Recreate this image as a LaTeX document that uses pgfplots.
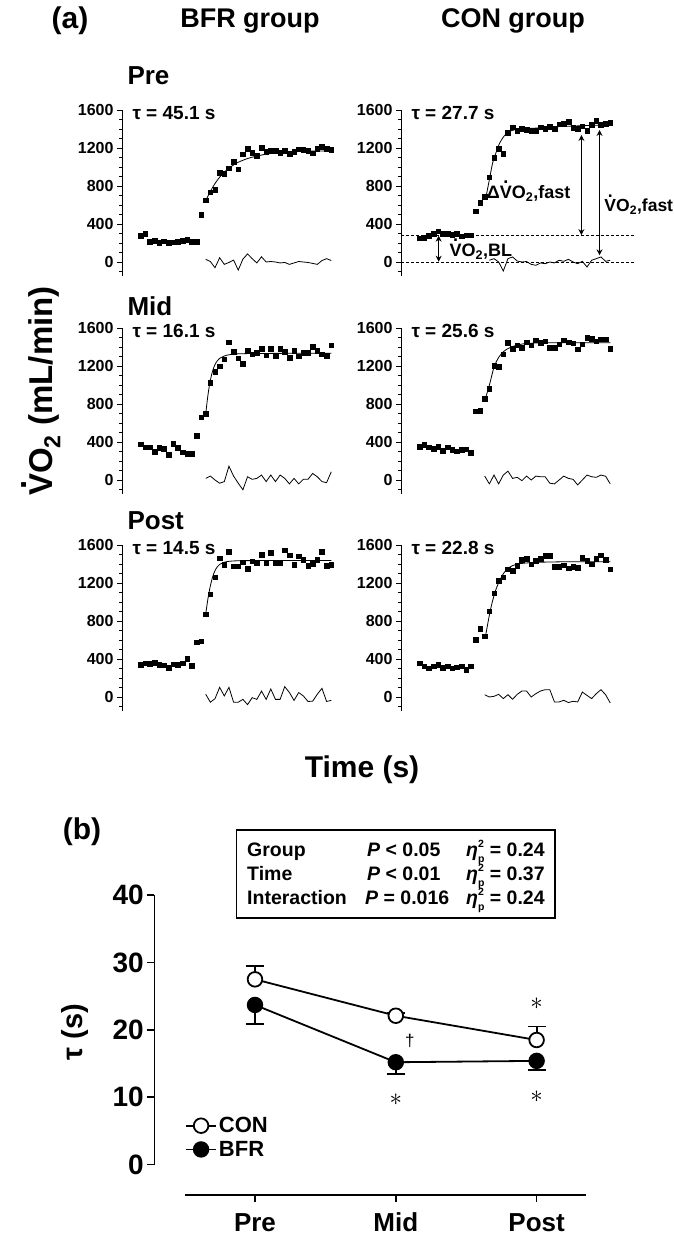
\documentclass[border=0pt]{standalone}
\usepackage{fontspec}
\setmainfont{Liberation Sans}
\usepackage{pgfplots}
\pgfplotsset{compat=1.18}
\usetikzlibrary{arrows.meta}

\newcommand{\fs}[1]{\fontsize{#1}{#1}\selectfont\bfseries}
\newcommand{\Vd}{\leavevmode\setbox0\hbox{V}\rlap{\hbox to \wd0{\hss\raisebox{0.80em}{.}\hss}}V}
\newcommand{\VOt}{\Vd O\textsubscript{2}}
\newcommand{\etap}{\textit{η}\rlap{\raisebox{0.50em}{\fs{10.5}2}}\raisebox{-0.30em}{\fs{10.5}p}}

\pgfplotsset{
  vo2/.style={
    scale only axis, width=232.5pt, height=166.25pt,
    xmin=-150, xmax=350, ymin=-150, ymax=1600,
    axis y line*=left, axis x line=none,
    axis line style={line width=0.9pt},
    clip=false,
    ytick={0,400,800,1200,1600}, yticklabels={0,400,800,1200,1600},
    minor ytick={-100,100,200,300,500,600,700,900,1000,1100,1300,1400,1500},
    tick align=outside, major tick length=5pt, minor tick length=3pt,
    tick style={line width=0.9pt, black},
    minor tick style={line width=0.7pt, black},
    yticklabel style={font=\fs{16}},
    anchor=south west,
  },
  bottomrow/.style={
    axis x line*=bottom,
    xtick={-100,0,100,200,300}, xticklabels={-100,0,100,200,300},
    minor xtick={-150,-50,50,150,250,350},
    xticklabel style={font=\fs{16}},
  },
  dat/.style={only marks, mark=square*, mark size=2.3pt, black},
  fitc/.style={no marks, black, line width=0.8pt, smooth},
  res/.style={no marks, black, line width=0.8pt},
}

\begin{document}
\begin{tikzpicture}
\useasboundingbox (0pt,0pt) rectangle (673pt,1240pt);

% ---------- titles ----------
\node[font=\fs{30}] at (70pt,1219pt) {(a)};
\node[font=\fs{27}] at (250pt,1219pt) {BFR group};
\node[font=\fs{27}] at (513pt,1219pt) {CON group};
\node[font=\fs{26},anchor=west] at (124pt,1164pt) {Pre};
\node[font=\fs{26},anchor=west] at (124pt,934pt) {Mid};
\node[font=\fs{26},anchor=west] at (124pt,719pt) {Post};
\node[font=\fs{33},rotate=90,inner sep=0pt] at (41pt,849pt) {\VOt{} (mL/min)};
\node[font=\fs{30}] at (362pt,470pt) {Time (s)};

% ---------- BFR Pre ----------
\begin{axis}[vo2, at={(122pt,963.75pt)}]
\addplot[dat] coordinates {(-110,275)(-100,296)(-90,212)(-80,222)(-70,205)(-60,218)(-50,200)(-40,210)(-30,212)(-20,222)(-10,232)(0,212)(10,212)(20,500)(30,651)(40,736)(50,764)(60,940)(70,930)(80,986)(90,1053)(100,975)(110,1134)(120,1190)(130,1151)(140,1116)(150,1204)(160,1162)(170,1173)(180,1173)(190,1151)(200,1173)(210,1141)(220,1162)(230,1187)(240,1180)(250,1173)(260,1144)(270,1194)(280,1215)(290,1190)(300,1180)};
\addplot[fitc] coordinates {(30,645)(40,743)(50,826)(60,893)(70,946)(80,988)(90,1022)(100,1050)(120,1089)(140,1115)(160,1135)(180,1148)(200,1156)(250,1166)(300,1170)};
\addplot[res] coordinates {(30,28)(40,5)(50,-60)(60,45)(70,-25)(80,-5)(90,20)(100,-85)(110,30)(120,85)(130,35)(140,-10)(150,55)(160,0)(170,5)(180,0)(190,-10)(200,-5)(210,-25)(220,-10)(230,5)(240,0)(250,-5)(260,-15)(270,-25)(280,15)(290,35)(300,15)};
\node[font=\fs{19},anchor=west] at (axis cs:-135,1565) {τ = 45.1 s};
\end{axis}

% ---------- CON Pre ----------
\begin{axis}[vo2, at={(401pt,963.75pt)}]
\addplot[black, line width=0.9pt, dash pattern=on 3pt off 2pt] coordinates {(-150,280)(350,280)};
\addplot[black, line width=0.9pt, dash pattern=on 3pt off 2pt] coordinates {(-150,0)(350,0)};
\addplot[dat] coordinates {(-110,250)(-100,255)(-90,275)(-80,300)(-70,325)(-60,295)(-50,300)(-40,290)(-30,295)(-20,270)(-10,280)(0,280)(10,535)(20,623)(30,687)(40,891)(50,1100)(60,1190)(70,1140)(80,1360)(90,1420)(100,1380)(110,1400)(120,1395)(130,1380)(140,1385)(150,1420)(160,1405)(170,1425)(180,1400)(190,1450)(200,1455)(210,1475)(220,1415)(230,1405)(240,1430)(250,1380)(260,1445)(270,1490)(280,1445)(290,1455)(300,1465)};
\addplot[fitc] coordinates {(33,690)(40,865)(47,1040)(55,1160)(62,1250)(72,1327)(83,1373)(94,1391)(108,1401)(136,1408)(193,1426)(300,1444)};
\addplot[res] coordinates {(40,18)(50,35)(60,0)(70,-95)(80,35)(90,53)(100,10)(110,0)(120,5)(130,-25)(140,-35)(150,-10)(160,-18)(170,0)(180,-10)(190,18)(200,7)(210,28)(220,0)(230,-18)(240,7)(250,-53)(260,18)(270,35)(280,53)(290,7)(300,18)};
\addplot[black, line width=1.2pt, {Stealth[length=6pt,width=6pt]}-{Stealth[length=6pt,width=6pt]}] coordinates {(-69,3)(-69,277)};
\addplot[black, line width=1.2pt, {Stealth[length=6pt,width=6pt]}-{Stealth[length=6pt,width=6pt]}] coordinates {(238,283)(238,1337)};
\addplot[black, line width=1.2pt, {Stealth[length=6pt,width=6pt]}-{Stealth[length=6pt,width=6pt]}] coordinates {(277,70)(277,1390)};
\node[font=\fs{19},anchor=west] at (axis cs:-135,1565) {τ = 27.7 s};
\node[font=\fs{18},anchor=east] at (axis cs:222,745) {Δ\VOt,fast};
\node[font=\fs{17.5},anchor=west] at (axis cs:280,600) {\VOt,fast};
\node[font=\fs{18},anchor=west,inner sep=1pt] at (axis cs:-48,135) {\VOt,BL};
\end{axis}

% ---------- BFR Mid ----------
\begin{axis}[vo2, at={(122pt,745.75pt)}]
\addplot[dat] coordinates {(-110,378)(-100,344)(-90,344)(-80,299)(-70,337)(-60,327)(-50,268)(-40,385)(-30,337)(-20,292)(-10,275)(0,275)(10,465)(20,661)(30,695)(40,1025)(50,1142)(60,1198)(70,1273)(80,1452)(90,1349)(100,1284)(110,1222)(120,1359)(130,1325)(140,1342)(150,1383)(160,1314)(170,1383)(180,1308)(190,1383)(200,1349)(210,1290)(220,1359)(230,1301)(240,1342)(250,1342)(260,1404)(270,1359)(280,1325)(290,1308)(300,1418)};
\addplot[fitc] coordinates {(30,695)(35,900)(40,1050)(45,1150)(50,1215)(55,1255)(60,1280)(70,1305)(80,1318)(100,1328)(150,1332)(300,1335)};
\addplot[res] coordinates {(30,17)(40,41)(50,0)(60,-34)(70,-17)(80,145)(90,41)(100,-34)(110,-103)(120,34)(130,7)(140,17)(150,52)(160,-17)(170,52)(180,-17)(190,52)(200,17)(210,-41)(220,17)(230,-41)(240,7)(250,7)(260,69)(270,34)(280,-17)(290,-28)(300,86)};
\node[font=\fs{19},anchor=west] at (axis cs:-135,1565) {τ = 16.1 s};
\end{axis}

% ---------- CON Mid ----------
\begin{axis}[vo2, at={(401pt,745.75pt)}]
\addplot[dat] coordinates {(-110,351)(-100,372)(-90,344)(-80,327)(-70,351)(-60,310)(-50,344)(-40,317)(-30,303)(-20,317)(-10,323)(0,286)(10,723)(20,730)(30,853)(40,964)(50,1204)(60,1194)(70,1325)(80,1445)(90,1383)(100,1418)(110,1394)(120,1452)(130,1418)(140,1473)(150,1445)(160,1463)(170,1394)(180,1394)(190,1428)(200,1473)(210,1452)(220,1438)(230,1376)(240,1428)(250,1497)(260,1487)(270,1463)(280,1480)(290,1480)(300,1383)};
\addplot[fitc] coordinates {(30,833)(40,998)(50,1187)(60,1290)(70,1349)(80,1383)(94,1411)(122,1438)(193,1445)(300,1445)};
\addplot[res] coordinates {(30,41)(40,-41)(50,52)(60,-41)(70,52)(80,93)(90,17)(100,28)(110,-7)(120,41)(130,0)(140,41)(150,34)(160,34)(170,-34)(180,-41)(190,0)(200,41)(210,17)(220,7)(230,-52)(240,0)(250,52)(260,34)(270,28)(280,52)(290,40)(300,-41)};
\node[font=\fs{19},anchor=west] at (axis cs:-135,1565) {τ = 25.6 s};
\end{axis}

% ---------- BFR Post ----------
\begin{axis}[vo2, bottomrow, at={(122pt,528.75pt)}]
\addplot[dat] coordinates {(-110,338)(-100,356)(-90,349)(-80,364)(-70,338)(-60,335)(-50,309)(-40,345)(-30,342)(-20,356)(-10,400)(0,327)(10,575)(20,589)(30,873)(40,1084)(50,1262)(60,1462)(70,1393)(80,1527)(90,1375)(100,1375)(110,1418)(120,1353)(130,1429)(140,1411)(150,1498)(160,1411)(170,1516)(180,1411)(190,1411)(200,1545)(210,1491)(220,1393)(230,1484)(240,1447)(250,1382)(260,1400)(270,1447)(280,1527)(290,1382)(300,1393)};
\addplot[fitc] coordinates {(30,873)(35,1040)(40,1170)(45,1265)(50,1330)(55,1370)(60,1395)(70,1418)(80,1428)(100,1434)(150,1436)(300,1436)};
\addplot[res] coordinates {(30,29)(40,-55)(50,-18)(60,102)(70,11)(80,102)(90,-55)(100,-55)(110,-25)(120,-80)(130,-7)(140,-25)(150,62)(160,-25)(170,84)(180,-25)(190,-25)(200,109)(210,47)(220,-36)(230,47)(240,11)(250,-47)(260,-44)(270,29)(280,91)(290,-47)(300,-36)};
\node[font=\fs{19},anchor=west] at (axis cs:-135,1565) {τ = 14.5 s};
\end{axis}

% ---------- CON Post ----------
\begin{axis}[vo2, bottomrow, at={(401pt,528.75pt)}]
\addplot[dat] coordinates {(-110,357)(-100,325)(-90,304)(-80,325)(-70,339)(-60,308)(-50,325)(-40,304)(-30,315)(-20,325)(-10,290)(0,325)(10,601)(20,717)(30,640)(40,902)(50,1091)(60,1224)(70,1259)(80,1346)(90,1329)(100,1381)(110,1444)(120,1458)(130,1399)(140,1434)(150,1458)(160,1486)(170,1486)(180,1371)(190,1371)(200,1388)(210,1357)(220,1371)(230,1364)(240,1469)(250,1434)(260,1399)(270,1458)(280,1493)(290,1444)(300,1346)};
\addplot[fitc] coordinates {(32,647)(42,909)(52,1101)(62,1224)(72,1311)(83,1364)(100,1399)(136,1416)(200,1423)(300,1423)};
\addplot[res] coordinates {(30,24)(40,0)(50,7)(60,28)(70,-17)(80,24)(90,-24)(100,28)(110,63)(120,63)(130,0)(140,35)(150,63)(160,77)(170,77)(180,-52)(190,-52)(200,-35)(210,-59)(220,-45)(230,-52)(240,52)(250,17)(260,-17)(270,35)(280,77)(290,24)(300,-63)};
\node[font=\fs{19},anchor=west] at (axis cs:-135,1565) {τ = 22.8 s};
\end{axis}

% ---------- part (b) ----------
\node[font=\fs{30}] at (82pt,408pt) {(b)};
\draw[line width=1.3pt] (236.7pt,410pt) rectangle (555pt,322pt);
\node[font=\fs{19.5},anchor=base west,inner sep=0pt] at (247pt,383pt) {Group};
\node[font=\fs{19.5},anchor=base west,inner sep=0pt] at (247pt,359pt) {Time};
\node[font=\fs{19.5},anchor=base west,inner sep=0pt] at (247pt,335pt) {Interaction};
\node[font=\fs{19.5},anchor=base west,inner sep=0pt] at (367pt,383pt) {\textit{P} < 0.05};
\node[font=\fs{19.5},anchor=base west,inner sep=0pt] at (367pt,359pt) {\textit{P} < 0.01};
\node[font=\fs{19.5},anchor=base west,inner sep=0pt] at (365pt,335pt) {\textit{P} = 0.016};
\node[font=\fs{19.5},anchor=base west,inner sep=0pt] at (466pt,383pt) {\etap{} = 0.24};
\node[font=\fs{19.5},anchor=base west,inner sep=0pt] at (466pt,359pt) {\etap{} = 0.37};
\node[font=\fs{19.5},anchor=base west,inner sep=0pt] at (466pt,335pt) {\etap{} = 0.24};
\node[font=\fs{29},rotate=90] at (75pt,208pt) {τ (s)};

\begin{axis}[
  at={(154.3pt,45pt)}, anchor=south west,
  scale only axis, width=431.6pt, height=299.9pt,
  xmin=-0.715, xmax=2.35, ymin=-4.5, ymax=40,
  axis x line*=bottom, axis y line*=left,
  axis line style={line width=1.6pt},
  x axis line style={shorten <=30.7pt},
  y axis line style={shorten <=30.4pt},
  xtick={0,1,2}, xticklabels={Pre,Mid,Post},
  ytick={0,10,20,30,40}, yticklabels={0,10,20,30,40},
  tick align=outside, major tick length=7pt,
  tick style={line width=1.6pt, black},
  xticklabel style={font=\fs{26}, text height=18pt, text depth=5pt, yshift=-8pt},
  yticklabel style={font=\fs{28}},
  clip=false,
  legend style={at={(0.0711,0.1917)}, anchor=west, draw=none, fill=none, font=\fs{22}, inner sep=0pt, row sep=3pt},
  legend cell align=left,
  legend image code/.code={\draw[mark repeat=2,mark phase=2,#1] plot coordinates {(0pt,0pt) (15pt,0pt) (30pt,0pt)};},
]
% error bars first, so that the markers cover them
\addplot[forget plot, draw=none, no marks,
  error bars/.cd, y dir=plus, y explicit, error bar style={draw=black, line width=1.8pt},
  error mark options={rotate=90, draw=black, mark size=9pt, line width=1.8pt}]
  coordinates {(0,27.5) +- (0,2.0) (1,22.1) +- (0,0.4) (2,18.5) +- (0,2.0)};
\addplot[forget plot, draw=none, no marks,
  error bars/.cd, y dir=minus, y explicit, error bar style={draw=black, line width=1.8pt},
  error mark options={rotate=90, draw=black, mark size=9pt, line width=1.8pt}]
  coordinates {(0,23.7) +- (0,2.8) (1,15.2) +- (0,1.7) (2,15.4) +- (0,1.4)};
\addplot[black, line width=1.8pt, mark=*, mark size=7.3pt, mark options={fill=white, line width=1.8pt}]
  coordinates {(0,27.5) (1,22.1) (2,18.5)};
\addlegendentry{CON}
\addplot[black, line width=1.8pt, mark=*, mark size=7.3pt, mark options={fill=black, line width=1.8pt}]
  coordinates {(0,23.7) (1,15.2) (2,15.4)};
\addlegendentry{BFR}
\node[font=\fontsize{46}{46}\selectfont] at (axis cs:2,23.9) {$\ast$};
\node[font=\fontsize{46}{46}\selectfont] at (axis cs:1,9.6) {$\ast$};
\node[font=\fontsize{46}{46}\selectfont] at (axis cs:2,10.1) {$\ast$};
\node[font=\fontsize{17}{17}\selectfont] at (axis cs:1.1,18.4) {†};
\end{axis}
\end{tikzpicture}
\end{document}
